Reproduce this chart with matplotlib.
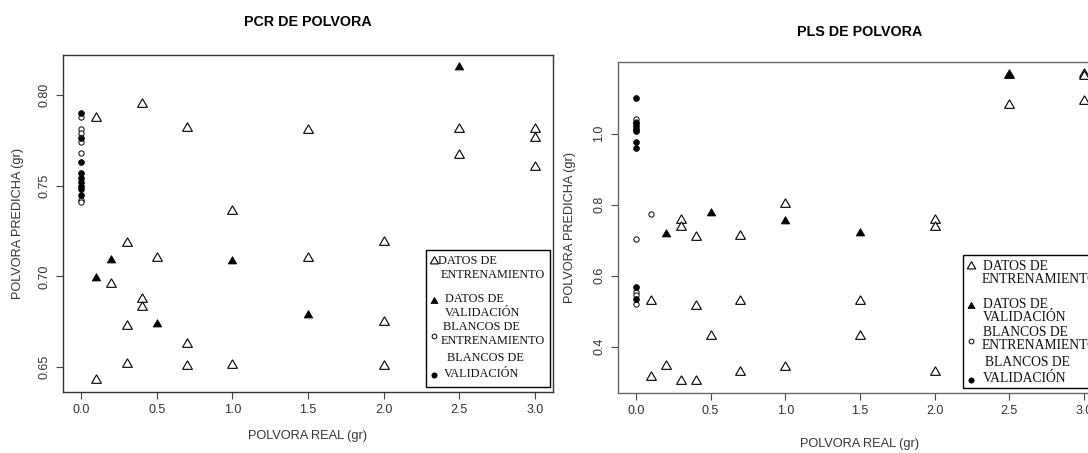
import numpy as np
import matplotlib
matplotlib.use("Agg")
import matplotlib.pyplot as plt
from matplotlib.patches import Rectangle

W, H = 1088, 453

# ---------------- PCR ----------------
pcr_train_x = [0.1, 0.4, 0.3, 0.5, 0.2, 0.4, 0.4, 0.3, 0.3, 0.1,
               0.7, 1.5, 2.5, 2.5, 3.0, 3.0, 3.0, 1.0, 2.0, 1.5,
               2.0, 0.7, 0.7, 1.0, 2.0]
pcr_train_y = [0.787, 0.795, 0.7186, 0.710, 0.6957, 0.6874, 0.6833, 0.6727, 0.6519, 0.6433,
               0.7815, 0.7805, 0.781, 0.7668, 0.781, 0.776, 0.760, 0.736, 0.719, 0.710,
               0.675, 0.6629, 0.6506, 0.6515, 0.6506]
pcr_valid_x = [0.1, 0.2, 0.5, 1.0, 1.5, 2.5]
pcr_valid_y = [0.699, 0.7089, 0.674, 0.7085, 0.6786, 0.815]
pcr_blank_train = [0.788, 0.781, 0.779, 0.774, 0.768, 0.742, 0.741]
pcr_blank_valid = [0.790, 0.776, 0.763, 0.757, 0.754, 0.752, 0.750, 0.748, 0.745]

# ---------------- PLS ----------------
pls_train_x = [0.1, 0.1, 0.2, 0.3, 0.3, 0.3, 0.4, 0.4, 0.4, 0.5,
               0.7, 0.7, 0.7, 1.0, 1.0, 1.5, 1.5, 2.0, 2.0, 2.0,
               2.5, 2.5, 3.0, 3.0, 3.0]
pls_train_y = [0.529, 0.314, 0.346, 0.756, 0.737, 0.304, 0.709, 0.515, 0.304, 0.430,
               0.712, 0.529, 0.328, 0.803, 0.342, 0.529, 0.430, 0.758, 0.737, 0.330,
               1.164, 1.080, 1.167, 1.163, 1.092]
pls_valid_x = [0.2, 0.5, 1.0, 1.5, 2.5]
pls_valid_y = [0.717, 0.775, 0.753, 0.720, 1.164]
pls_blank_train_x = [0.0, 0.0, 0.0, 0.1, 0.0, 0.0, 0.0]
pls_blank_train_y = [1.040, 1.033, 0.702, 0.773, 0.555, 0.545, 0.520]
pls_blank_valid = [1.100, 1.030, 1.022, 1.014, 1.007, 0.977, 0.958, 0.567, 0.533]

x_ticks = [0.0, 0.5, 1.0, 1.5, 2.0, 2.5, 3.0]
pcr_y_ticks = [0.65, 0.70, 0.75, 0.80]
pls_y_ticks = [0.4, 0.6, 0.8, 1.0]

legend_lines = ["DATOS DE", "ENTRENAMIENTO", "DATOS DE", "VALIDACIÓN",
                "BLANCOS DE", "ENTRENAMIENTO", "BLANCOS DE", "VALIDACIÓN"]

# equilateral triangle like R's pch 2 / 17
TRI = (3, 0, 0)

SANS = ["Liberation Sans", "DejaVu Sans"]
SERIF = ["Liberation Serif", "DejaVu Serif"]


def fx(px):
    return px / W


def fy(py):
    return 1 - py / H


def scatter_panel(ax, tx, ty, vx, vy, btx, bty, bvx, bvy):
    ax.plot(tx, ty, ls="none", marker=TRI, ms=8.2, mfc="white", mec="black", mew=0.8)
    ax.plot(vx, vy, ls="none", marker=TRI, ms=7.0, mfc="black", mec="black", mew=0.6)
    ax.plot(btx, bty, ls="none", marker="o", ms=3.8, mfc="white", mec="black", mew=0.7)
    ax.plot(bvx, bvy, ls="none", marker="o", ms=4.2, mfc="black", mec="black", mew=0.5)
    ax.margins(0.04)


def style_axes(ax, yticks, yfmt, frame):
    ax.set_xticks(x_ticks)
    ax.set_xticklabels(["%.1f" % v for v in x_ticks])
    ax.set_yticks(yticks)
    ax.set_yticklabels([yfmt % v for v in yticks])
    for s in ax.spines.values():
        s.set_color(frame)
        s.set_linewidth(1.0)
    ax.tick_params(direction="out", length=5, width=0.8, color="#444444",
                   labelsize=9, labelcolor="#333333")
    ax.tick_params(axis="x", pad=3.5)
    ax.tick_params(axis="y", pad=4)
    for lab in ax.get_yticklabels():
        lab.set_rotation(90)
        lab.set_va("center")
    for lab in ax.get_xticklabels() + ax.get_yticklabels():
        lab.set_family(SANS)


def draw_key(fig, left, top, right, bottom, fsize, text_dx):
    fig.add_artist(Rectangle((fx(left), fy(bottom)), fx(right) - fx(left),
                             fy(top) - fy(bottom), transform=fig.transFigure,
                             fill=False, edgecolor="black", lw=1.0))
    line_dy = [11, 24.5, 49.5, 62.5, 77, 90.5, 108, 124]
    for txt, dy, dx in zip(legend_lines, line_dy, text_dx):
        fig.text(fx(left + dx), fy(top + dy), txt, ha="left", va="center",
                 fontsize=fsize, family=SERIF, color="#111111")
    marks = [(TRI, 7.0, "white", 0.8), (TRI, 6.0, "black", 0.5),
             ("o", 3.4, "white", 0.7), ("o", 3.8, "black", 0.5)]
    for (m, ms, fc, mew), dy in zip(marks, [11, 51, 86, 125]):
        fig.add_artist(plt.Line2D([fx(left + 8)], [fy(top + dy)], transform=fig.transFigure,
                                  marker=m, ms=ms, mfc=fc, mec="black", mew=mew, ls="none"))


fig = plt.figure(figsize=(W / 100, H / 100), dpi=100)
fig.patch.set_facecolor("white")

# left panel: PCR
ax1 = fig.add_axes([fx(63), fy(392), (553 - 63) / W, (392 - 55) / H])
scatter_panel(ax1, pcr_train_x, pcr_train_y, pcr_valid_x, pcr_valid_y,
              np.zeros(len(pcr_blank_train)), pcr_blank_train,
              np.zeros(len(pcr_blank_valid)), pcr_blank_valid)
style_axes(ax1, pcr_y_ticks, "%.2f", "#333333")
ax1.set_title("PCR DE POLVORA", fontsize=10.3, fontweight="bold", family=SANS, pad=21)
ax1.set_xlabel("POLVORA REAL (gr)", fontsize=9.2, family=SANS, color="#333333")
ax1.set_ylabel("POLVORA PREDICHA (gr)", fontsize=9.2, family=SANS, color="#333333")
ax1.xaxis.set_label_coords(0.5, -0.113)
ax1.yaxis.set_label_coords(-0.08, 0.5)
draw_key(fig, 426, 250, 550, 387, 8.8, [12, 14.7, 19, 19, 16.7, 14.7, 20.7, 18])

# right panel: PLS (runs past the right edge of the canvas)
ax2 = fig.add_axes([fx(618), fy(393), (1102 - 618) / W, (393 - 62) / H])
scatter_panel(ax2, pls_train_x, pls_train_y, pls_valid_x, pls_valid_y,
              pls_blank_train_x, pls_blank_train_y,
              np.zeros(len(pls_blank_valid)), pls_blank_valid)
style_axes(ax2, pls_y_ticks, "%.1f", "#666666")
ax2.set_title("PLS DE POLVORA", fontsize=10.3, fontweight="bold", family=SANS, pad=19)
ax2.set_xlabel("POLVORA REAL (gr)", fontsize=9.2, family=SANS, color="#333333")
ax2.set_ylabel("POLVORA PREDICHA (gr)", fontsize=9.2, family=SANS, color="#333333")
ax2.xaxis.set_label_coords(0.5, -0.136)
ax2.yaxis.set_label_coords(-0.087, 0.5)
draw_key(fig, 963, 255, 1100, 388, 9.8, [20.3, 18.7, 20.3, 20.3, 20, 18.7, 22, 20.3])

fig.savefig("out.png", dpi=100)
